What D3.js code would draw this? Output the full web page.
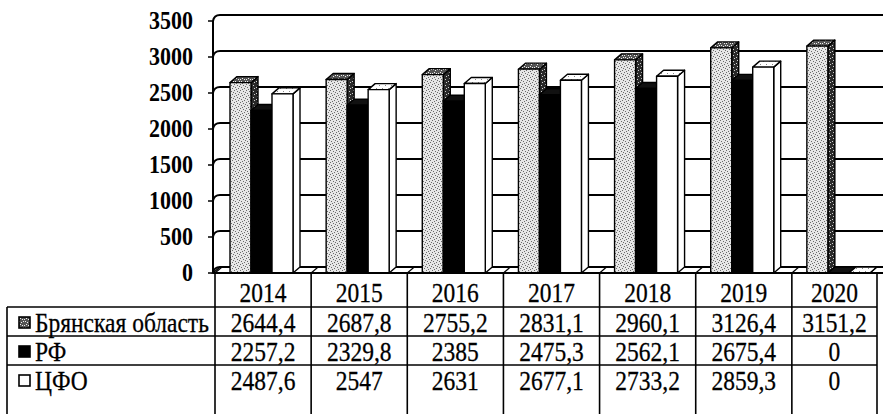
<!DOCTYPE html>
<html>
<head>
<meta charset="utf-8">
<script src="https://cdn.jsdelivr.net/npm/d3@7"></script>
<style>
  html, body { margin: 0; padding: 0; background: #fff; }
  svg { display: block; }
</style>
</head>
<body>
<svg id="chart" width="883" height="414"></svg>
<script>
// ---- data ----
const years = ["2014", "2015", "2016", "2017", "2018", "2019", "2020"];
const seriesNames = ["Брянская область", "РФ", "ЦФО"];
const bryansk = [2644.4, 2687.8, 2755.2, 2831.1, 2960.1, 3126.4, 3151.2];
const rf      = [2257.2, 2329.8, 2385, 2475.3, 2562.1, 2675.4, 0];
const cfo     = [2487.6, 2547, 2631, 2677.1, 2733.2, 2859.3, 0];
const bryanskLabels = ["2644,4", "2687,8", "2755,2", "2831,1", "2960,1", "3126,4", "3151,2"];
const rfLabels      = ["2257,2", "2329,8", "2385", "2475,3", "2562,1", "2675,4", "0"];
const cfoLabels     = ["2487,6", "2547", "2631", "2677,1", "2733,2", "2859,3", "0"];
const yTicks = [0, 500, 1000, 1500, 2000, 2500, 3000, 3500];

const seriesValues = [bryansk, rf, cfo];
const seriesLabels = [bryanskLabels, rfLabels, cfoLabels];

// ---- layout ----
const axisX = 213;
const floorY = 273;
const DX = 7, DY = -6;
const rightEdge = 883;
const tableRight = 877;
const SY = 1.12; // vertical text stretch of the scan

const svg = d3.select("#chart");
const defs = svg.append("defs");

function stipple(id, bg, fg, dots) {
  const p = defs.append("pattern").attr("id", id).attr("patternUnits", "userSpaceOnUse")
    .attr("width", 6).attr("height", 6);
  p.append("rect").attr("width", 6).attr("height", 6).attr("fill", bg);
  dots.forEach(([px, py]) => p.append("rect").attr("x", px).attr("y", py).attr("width", 1).attr("height", 1).attr("fill", fg));
}
stipple("pB", "#e6e6e6", "#6a6a6a", [[0,0],[3,1],[1,3],[4,4],[2,5],[5,2]]);
stipple("pBside", "#2a2a2a", "#d0d0d0", [[1,1],[4,3],[2,4],[5,0]]);
stipple("pBtop", "#555", "#eee", [[0,1],[2,0],[4,1],[1,3],[3,4],[5,3]]);
stipple("pCtop", "#fff", "#888", [[1,1],[4,4]]);

const x = d3.scaleBand().domain(years).range([215, 888]).paddingInner(0).paddingOuter(0);
const xs = d3.scaleBand().domain(seriesNames).range([15, 78]);
const y = d3.scaleLinear().domain([0, 3500]).range([floorY, 21]);

const faceStyle = {
  "Брянская область": { front: "url(#pB)", side: "url(#pBside)", top: "url(#pBtop)" },
  "РФ": { front: "#000", side: "#000", top: "#111" },
  "ЦФО": { front: "#fff", side: "#fff", top: "url(#pCtop)" }
};

// ---- walls ----
const wall = svg.append("g").attr("stroke", "#000").attr("fill", "none");
wall.append("path")
  .attr("d", `M${axisX},${floorY} L${axisX + DX},${floorY + DY} L${rightEdge + 10},${floorY + DY} L${rightEdge + 10},${floorY} Z`)
  .attr("fill", "#fff").attr("stroke-width", 1.5);
yTicks.forEach(t => {
  const yf = y(t), yb = y(t) + DY;
  wall.append("path")
    .attr("d", `M${axisX},${yf} Q${axisX + 1},${yb} ${axisX + DX},${yb} L${rightEdge},${yb}`)
    .attr("stroke-width", t === 3500 ? 2 : 1.8);
  wall.append("line").attr("x1", axisX - 5).attr("x2", axisX).attr("y1", yf).attr("y2", yf).attr("stroke-width", 1.5);
});
years.forEach(c => {
  const xb = x(c);
  wall.append("line").attr("x1", xb).attr("y1", floorY).attr("x2", xb + DX).attr("y2", floorY + DY).attr("stroke-width", 1.2);
});
wall.append("line").attr("x1", axisX).attr("x2", axisX).attr("y1", y(3500)).attr("y2", floorY).attr("stroke-width", 2);

// y tick labels
svg.append("g").selectAll("text").data(yTicks).join("text")
  .attr("transform", d => `translate(193,${y(d) + 8}) scale(1,${SY})`)
  .attr("text-anchor", "end")
  .attr("font-family", "Liberation Serif, Times New Roman, serif")
  .attr("font-weight", "bold")
  .attr("font-size", 22)
  .text(d => d);

// ---- bars ----
const barsG = svg.append("g").attr("stroke", "#000").attr("stroke-width", 1.4).attr("stroke-linejoin", "round");
const bw = xs.bandwidth();
years.forEach((c, i) => {
  seriesNames.forEach((s, k) => {
    const v = seriesValues[k][i];
    const x0 = x(c) + xs(s), x1 = x0 + bw;
    const yt = y(v), yb = y(0);
    const st = faceStyle[s];
    const g = barsG.append("g");
    g.append("path").attr("d", `M${x1},${yt} L${x1 + DX},${yt + DY} L${x1 + DX},${yb + DY} L${x1},${yb} Z`).attr("fill", st.side);
    g.append("path").attr("d", `M${x0},${yt} L${x0 + DX},${yt + DY} L${x1 + DX},${yt + DY} L${x1},${yt} Z`).attr("fill", st.top);
    if (yb - yt > 0) {
      g.append("rect").attr("x", x0).attr("y", yt).attr("width", bw).attr("height", yb - yt).attr("fill", st.front);
    }
  });
});

svg.append("line").attr("x1", axisX).attr("x2", rightEdge).attr("y1", floorY).attr("y2", floorY)
  .attr("stroke", "#000").attr("stroke-width", 2.2);

// ---- data table ----
const tbl = svg.append("g").attr("font-family", "Liberation Serif, Times New Roman, serif").attr("font-size", 23.5)
  .attr("stroke", "#000").attr("stroke-width", 0.25);
const rowTops = [307, 336, 365];
const tableLeft = 7;
const tableBottom = 414;

const cellLeft = c => x(c);
const cellRight = c => Math.min(x(c) + x.bandwidth(), tableRight);

const lines = svg.append("g").attr("stroke", "#000").attr("stroke-width", 1.6);
years.forEach(c => {
  lines.append("line").attr("x1", cellLeft(c)).attr("x2", cellLeft(c)).attr("y1", floorY).attr("y2", tableBottom);
});
lines.append("line").attr("x1", tableRight).attr("x2", tableRight).attr("y1", floorY).attr("y2", tableBottom);
lines.append("line").attr("x1", tableLeft).attr("x2", tableLeft).attr("y1", rowTops[0]).attr("y2", tableBottom);
rowTops.forEach(rt => {
  lines.append("line").attr("x1", tableLeft).attr("x2", tableRight).attr("y1", rt).attr("y2", rt);
});

years.forEach(c => {
  tbl.append("text")
    .attr("transform", `translate(${(cellLeft(c) + cellRight(c)) / 2},302) scale(1,${SY})`)
    .attr("text-anchor", "middle").text(c);
});
seriesNames.forEach((s, k) => {
  const base = rowTops[k] + 25;
  years.forEach((c, i) => {
    tbl.append("text")
      .attr("transform", `translate(${(cellLeft(c) + cellRight(c)) / 2},${base}) scale(1,${SY})`)
      .attr("text-anchor", "middle").text(seriesLabels[k][i]);
  });
  const ky = rowTops[k] + 10;
  const keyFill = s === "Брянская область" ? "url(#pBtop)" : (s === "РФ" ? "#000" : "#fff");
  svg.append("rect").attr("x", 19).attr("y", ky).attr("width", 11).attr("height", 11)
    .attr("fill", keyFill).attr("stroke", "#000").attr("stroke-width", 1.6);
  tbl.append("text")
    .attr("transform", `translate(35,${base}) scale(1,${SY})`)
    .text(s);
});
</script>
</body>
</html>
